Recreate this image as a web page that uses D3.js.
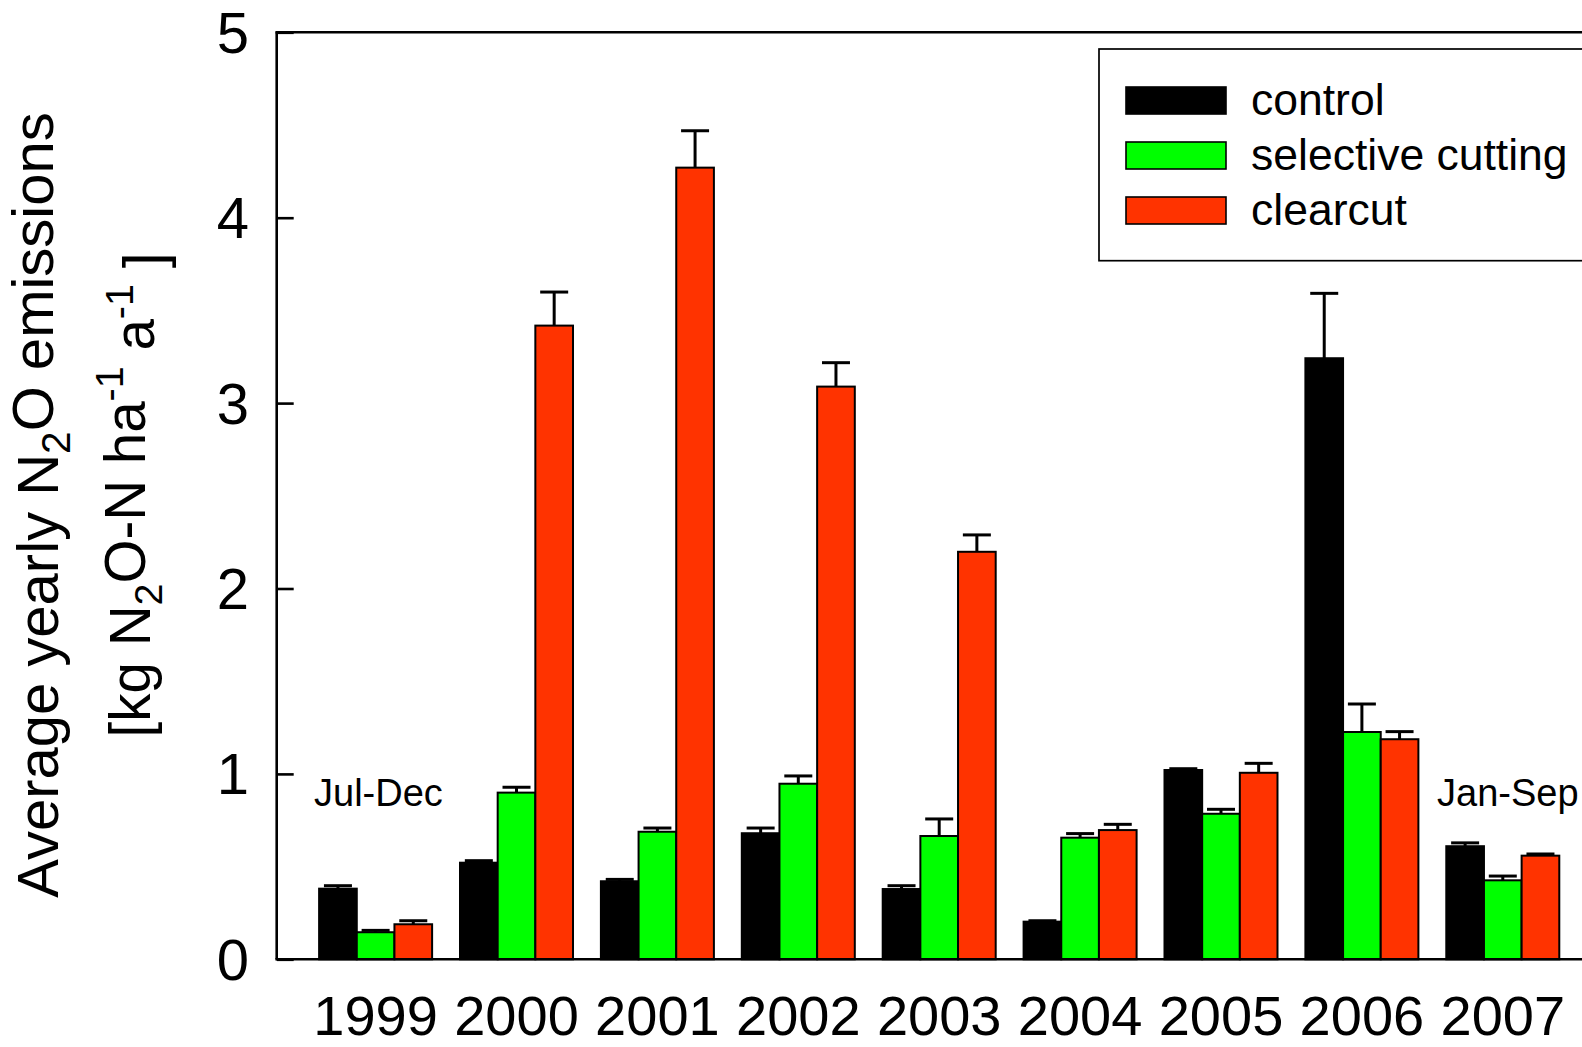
<!DOCTYPE html>
<html>
<head>
<meta charset="utf-8">
<script src="https://cdn.jsdelivr.net/npm/d3@7"></script>
<style>
  html, body { margin: 0; padding: 0; background: #fff; }
  svg { display: block; }
  text { font-family: "Liberation Sans", Arial, sans-serif; fill: #000; }
</style>
</head>
<body>
<svg id="chart" width="1582" height="1047"></svg>
<script>
// ---- data ----
const years = ["1999", "2000", "2001", "2002", "2003", "2004", "2005", "2006", "2007"];
const seriesNames = ["control", "selective cutting", "clearcut"];
const seriesColors = ["#000000", "#00ff00", "#ff3300"];
const control      = [0.381, 0.521, 0.421, 0.680, 0.379, 0.203, 1.021, 3.242, 0.610];
const controlErr   = [0.016, 0.011, 0.010, 0.028, 0.018, 0.005, 0.007, 0.350, 0.018];
const selective    = [0.146, 0.899, 0.688, 0.947, 0.665, 0.656, 0.785, 1.226, 0.426];
const selectiveErr = [0.010, 0.029, 0.020, 0.042, 0.092, 0.022, 0.024, 0.151, 0.023];
const clearcut     = [0.189, 3.418, 4.270, 3.089, 2.198, 0.697, 1.006, 1.187, 0.559];
const clearcutErr  = [0.019, 0.181, 0.199, 0.129, 0.091, 0.031, 0.051, 0.041, 0.009];
const yTicks = [0, 1, 2, 3, 4, 5];

const values = [control, selective, clearcut];
const errors = [controlErr, selectiveErr, clearcutErr];

// ---- layout ----
const svg = d3.select("#chart");
const L = 276.7, R = 1601.7, T = 32.3, B = 959.3;

const x = d3.scaleBand().domain(years).range([L, R]).paddingInner(0.198).paddingOuter(0.301);
const xs = d3.scaleBand().domain(d3.range(3)).range([0, x.bandwidth()]).padding(0);
const y = d3.scaleLinear().domain([0, 5]).range([B, T]);

const rows = [];
years.forEach((yr, i) => {
  for (let s = 0; s < 3; s++) rows.push({ yr, s, v: values[s][i], e: errors[s][i] });
});

// error bars
const eb = svg.append("g");
const capW = 28;
eb.selectAll("line.stem").data(rows).enter().append("line")
  .attr("x1", d => x(d.yr) + xs(d.s) + xs.bandwidth() / 2)
  .attr("x2", d => x(d.yr) + xs(d.s) + xs.bandwidth() / 2)
  .attr("y1", d => y(d.v))
  .attr("y2", d => y(d.v + d.e))
  .attr("stroke", "#000").attr("stroke-width", 3);
eb.selectAll("line.cap").data(rows).enter().append("line")
  .attr("x1", d => x(d.yr) + xs(d.s) + xs.bandwidth() / 2 - capW / 2)
  .attr("x2", d => x(d.yr) + xs(d.s) + xs.bandwidth() / 2 + capW / 2)
  .attr("y1", d => y(d.v + d.e))
  .attr("y2", d => y(d.v + d.e))
  .attr("stroke", "#000").attr("stroke-width", 3);

// bars
svg.append("g").selectAll("rect").data(rows).enter().append("rect")
  .attr("x", d => x(d.yr) + xs(d.s))
  .attr("y", d => y(d.v))
  .attr("width", xs.bandwidth())
  .attr("height", d => y(0) - y(d.v))
  .attr("fill", d => seriesColors[d.s])
  .attr("stroke", "#000").attr("stroke-width", 2);

// frame
svg.append("line").attr("x1", L).attr("x2", L).attr("y1", T).attr("y2", B)
  .attr("stroke", "#000").attr("stroke-width", 2.6);
svg.append("line").attr("x1", L - 1.3).attr("x2", 1600).attr("y1", T).attr("y2", T)
  .attr("stroke", "#000").attr("stroke-width", 2.6);
svg.append("line").attr("x1", L - 1.3).attr("x2", 1600).attr("y1", B).attr("y2", B)
  .attr("stroke", "#000").attr("stroke-width", 2.6);

// y axis ticks (inward) and labels
const yAxis = d3.axisRight(y).tickValues(yTicks).tickSize(17).tickFormat("");
const ga = svg.append("g").attr("transform", `translate(${L},0)`).call(yAxis);
ga.select(".domain").remove();
ga.selectAll(".tick line").attr("stroke", "#000").attr("stroke-width", 2.6);

svg.append("g").selectAll("text").data(yTicks).enter().append("text")
  .attr("x", 249).attr("y", d => y(d) + 20.5)
  .attr("text-anchor", "end").attr("font-size", 58)
  .text(d => d);

// x labels
svg.append("g").selectAll("text").data(years).enter().append("text")
  .attr("x", d => x(d) + x.bandwidth() / 2).attr("y", 1035)
  .attr("text-anchor", "middle").attr("font-size", 56)
  .text(d => d);

// annotations
svg.append("text").attr("x", 314).attr("y", 806).attr("font-size", 38).text("Jul-Dec");
svg.append("text").attr("x", 1437).attr("y", 806).attr("font-size", 38).text("Jan-Sep");

// y title
const t1 = svg.append("text").attr("transform", "translate(58,505) rotate(-90)")
  .attr("text-anchor", "middle").attr("font-size", 58);
t1.append("tspan").text("Average yearly N");
t1.append("tspan").attr("font-size", "0.7em").attr("dy", "0.3em").text("2");
t1.append("tspan").attr("dy", "-0.3em").text("O emissions");

const t2 = svg.append("text").attr("transform", "translate(150,495) rotate(-90)")
  .attr("text-anchor", "middle").attr("font-size", 56.5);
t2.append("tspan").text("[kg N");
t2.append("tspan").attr("font-size", "0.7em").attr("dy", "0.3em").text("2");
t2.append("tspan").attr("dy", "-0.3em").text("O-N ha");
t2.append("tspan").attr("font-size", "0.7em").attr("dy", "-0.55em").text("-1");
t2.append("tspan").attr("dy", "0.55em").text(" a");
t2.append("tspan").attr("font-size", "0.7em").attr("dy", "-0.55em").text("-1");
t2.append("tspan").attr("dy", "0.55em").text(" ]");

// legend
const lg = svg.append("g");
lg.append("rect").attr("x", 1099).attr("y", 49).attr("width", 520).attr("height", 211.7)
  .attr("fill", "#fff").attr("stroke", "#000").attr("stroke-width", 1.7);
seriesNames.forEach((n, i) => {
  lg.append("rect").attr("x", 1126).attr("y", 87 + i * 55).attr("width", 100).attr("height", 27)
    .attr("fill", seriesColors[i]).attr("stroke", "#000").attr("stroke-width", 1.6);
  lg.append("text").attr("x", 1251).attr("y", 115 + i * 55).attr("font-size", 44.5).text(n);
});
</script>
</body>
</html>
